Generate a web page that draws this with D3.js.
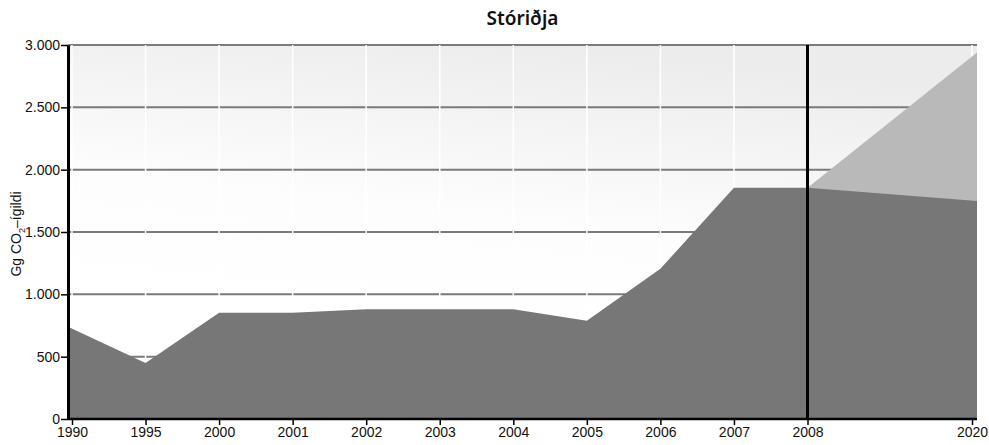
<!DOCTYPE html>
<html>
<head>
<meta charset="utf-8">
<script src="https://cdn.jsdelivr.net/npm/d3@7"></script>
<style>
  body { margin: 0; background: #fff; }
  .tick text { font-family: "Liberation Sans", Arial, sans-serif; font-size: 14px; fill: #111; }
</style>
</head>
<body>
<div id="chart"></div>
<script>
// Stóriðja - losun, Gg CO2-ígildi
var years = ["1990", "1995", "2000", "2001", "2002", "2003", "2004", "2005", "2006", "2007", "2008", "2020"];
var emissions = [740, 450, 852, 852, 880, 880, 880, 788, 1205, 1855, 1855, 1748];
// efri ferill spár (2008 -> 2020)
var projYears = ["2008", "2020"];
var projHigh = [1855, 2940];
var yTicks = [0, 500, 1000, 1500, 2000, 2500, 3000];

var width = 989, height = 445,
    margin = {top: 45, right: 12, bottom: 26, left: 68};

var svg = d3.select('#chart').append('svg')
    .attr('width', width)
    .attr('height', height);

var defs = svg.append('defs');
var grad = defs.append('linearGradient')
    .attr('id', 'bg-grad')
    .attr('x1', '0.55').attr('y1', '0')
    .attr('x2', '0.35').attr('y2', '0.75');
grad.append('stop').attr('offset', '0').attr('stop-color', '#ececec');
grad.append('stop').attr('offset', '0.6').attr('stop-color', '#fdfdfd');
grad.append('stop').attr('offset', '1').attr('stop-color', '#ffffff');

var pLeft = margin.left, pRight = width - margin.right,
    pTop = margin.top, pBottom = height - margin.bottom;

// 1990..2008 jafnt bil, 2020 lengra til hægri
var x = d3.scaleLinear()
    .domain([0, 10, 11])
    .range([pLeft + 4, pLeft + 739.5, pRight - 5]);

var y = d3.scaleLinear()
    .domain([0, 3000])
    .range([pBottom, pTop]);

var iceland = d3.formatLocale({decimal: ',', thousands: '.', grouping: [3], currency: ['', ' kr.']});
var fmt = iceland.format(',d');

// bakgrunnur
svg.append('rect')
    .attr('x', pLeft).attr('y', pTop)
    .attr('width', pRight - pLeft).attr('height', pBottom - pTop)
    .attr('fill', 'url(#bg-grad)');

// láréttar línur
svg.append('g').selectAll('line')
    .data(yTicks)
    .enter().append('line')
    .attr('x1', pLeft).attr('x2', pRight)
    .attr('y1', function (d) { return y(d); })
    .attr('y2', function (d) { return y(d); })
    .attr('stroke', '#7a7a7a')
    .attr('stroke-width', 2);

// lóðréttar hvítar línur
svg.append('g').selectAll('line')
    .data(d3.range(years.length))
    .enter().append('line')
    .attr('x1', function (i) { return x(i); })
    .attr('x2', function (i) { return x(i); })
    .attr('y1', pTop).attr('y2', pBottom)
    .attr('stroke', '#ffffff')
    .attr('stroke-width', 1.5);

var idx = function (yr) { return years.indexOf(yr); };
var last = years.length - 1;
// flötur nær út að jöðrum teiknisvæðis
var xEdge = function (i) {
  if (i === 0) return pLeft;
  if (i === last) return pRight;
  return x(i);
};

// spá - ljós flötur
var projArea = d3.area()
    .x(function (d, i) { return xEdge(idx(projYears[i])); })
    .y0(y(0))
    .y1(function (d) { return y(d); });

svg.append('path')
    .datum(projHigh)
    .attr('d', projArea)
    .attr('fill', '#b9b9b9');

// losun - dökkur flötur
var area = d3.area()
    .x(function (d, i) { return xEdge(i); })
    .y0(y(0))
    .y1(function (d) { return y(d); });

svg.append('path')
    .datum(emissions)
    .attr('d', area)
    .attr('fill', '#777777');

// 2008 lína
svg.append('line')
    .attr('x1', x(idx('2008'))).attr('x2', x(idx('2008')))
    .attr('y1', pTop).attr('y2', pBottom)
    .attr('stroke', '#000')
    .attr('stroke-width', 3);

// ásar
var xAxis = d3.axisBottom(x)
    .tickValues(d3.range(years.length))
    .tickFormat(function (i) { return years[i]; })
    .tickSize(6)
    .tickSizeOuter(0);

var gx = svg.append('g')
    .attr('transform', 'translate(0,' + pBottom + ')')
    .call(xAxis);
gx.select('.domain').attr('d', 'M' + pLeft + ',0H' + pRight).attr('stroke', '#000').attr('stroke-width', 2.5);
gx.selectAll('.tick line').attr('stroke', '#000').attr('stroke-width', 1.5);
gx.selectAll('.tick text').attr('dy', '0.71em').attr('y', 8);

var yAxis = d3.axisLeft(y)
    .tickValues(yTicks)
    .tickFormat(fmt)
    .tickSize(7)
    .tickSizeOuter(0);

var gy = svg.append('g')
    .attr('transform', 'translate(' + pLeft + ',0)')
    .call(yAxis);
gy.select('.domain').attr('stroke', '#000').attr('stroke-width', 3);
gy.selectAll('.tick line').attr('stroke', '#000').attr('stroke-width', 1.5);
gy.selectAll('.tick text').attr('x', -8);

// titill
svg.append('text')
    .attr('x', (pLeft + pRight) / 2)
    .attr('y', 25)
    .attr('text-anchor', 'middle')
    .style('font-family', '"Noto Sans", "Open Sans", sans-serif')
    .style('font-size', '19px')
    .style('font-weight', 600)
    .attr('fill', '#111')
    .text('Stóriðja');

// y-ás heiti
var ylab = svg.append('text')
    .attr('transform', 'translate(21,' + 234 + ') rotate(-90)')
    .attr('text-anchor', 'middle')
    .style('font-family', '"Liberation Sans", Arial, sans-serif')
    .style('font-size', '14px')
    .attr('fill', '#111');
ylab.append('tspan').text('Gg CO');
ylab.append('tspan').attr('dy', 4).style('font-size', '9px').text('2');
ylab.append('tspan').attr('dy', -4).text('–ígildi');
</script>
</body>
</html>
